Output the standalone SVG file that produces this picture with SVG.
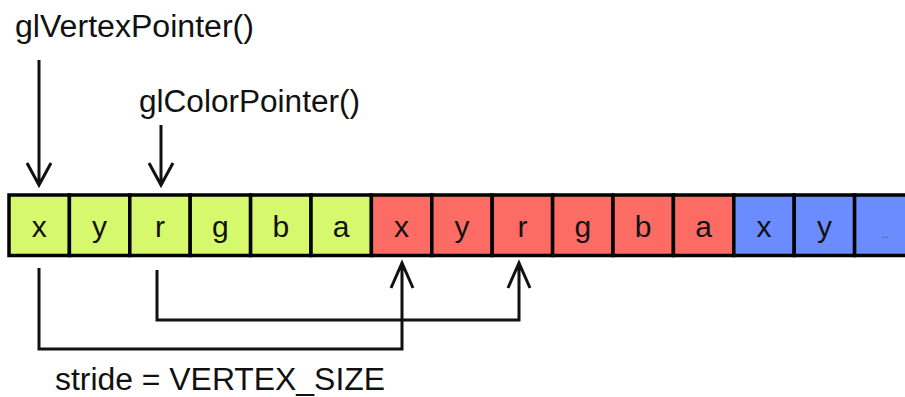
<svg xmlns="http://www.w3.org/2000/svg" width="905" height="397" viewBox="0 0 905 397">
<style>
.cell{stroke:#000;stroke-width:3.5}
.g{fill:#d6f86c}
.r{fill:#fd6c64}
.b{fill:#6b8cff}
.lt{font-family:"Liberation Sans",Arial,sans-serif;font-size:30px;fill:#111;text-anchor:middle}
.lbl{font-family:"Liberation Sans",Arial,sans-serif;font-size:31px;fill:#111}
.ln{fill:none;stroke:#111;stroke-width:3;stroke-linejoin:miter}
</style>
<rect width="905" height="397" fill="#fff"/>
<g id="buffer">
<g id="c0"><rect class="cell g" x="9" y="195" width="60.4" height="60.5"/><text class="lt" x="39.2" y="237">x</text></g>
<g id="c1"><rect class="cell g" x="69.4" y="195" width="60.4" height="60.5"/><text class="lt" x="99.6" y="237">y</text></g>
<g id="c2"><rect class="cell g" x="129.8" y="195" width="60.4" height="60.5"/><text class="lt" x="160" y="237">r</text></g>
<g id="c3"><rect class="cell g" x="190.2" y="195" width="60.4" height="60.5"/><text class="lt" x="220.4" y="237">g</text></g>
<g id="c4"><rect class="cell g" x="250.6" y="195" width="60.4" height="60.5"/><text class="lt" x="280.8" y="237">b</text></g>
<g id="c5"><rect class="cell g" x="311" y="195" width="60.4" height="60.5"/><text class="lt" x="341.2" y="237">a</text></g>
<g id="c6"><rect class="cell r" x="371.4" y="195" width="60.4" height="60.5"/><text class="lt" x="401.6" y="237">x</text></g>
<g id="c7"><rect class="cell r" x="431.8" y="195" width="60.4" height="60.5"/><text class="lt" x="462" y="237">y</text></g>
<g id="c8"><rect class="cell r" x="492.2" y="195" width="60.4" height="60.5"/><text class="lt" x="522.4" y="237">r</text></g>
<g id="c9"><rect class="cell r" x="552.6" y="195" width="60.4" height="60.5"/><text class="lt" x="582.8" y="237">g</text></g>
<g id="c10"><rect class="cell r" x="613" y="195" width="60.4" height="60.5"/><text class="lt" x="643.2" y="237">b</text></g>
<g id="c11"><rect class="cell r" x="673.4" y="195" width="60.4" height="60.5"/><text class="lt" x="703.6" y="237">a</text></g>
<g id="c12"><rect class="cell b" x="733.8" y="195" width="60.4" height="60.5"/><text class="lt" x="764" y="237">x</text></g>
<g id="c13"><rect class="cell b" x="794.2" y="195" width="60.4" height="60.5"/><text class="lt" x="824.4" y="237">y</text></g>
<g id="c14"><rect class="cell b" x="854.6" y="195" width="60.4" height="60.5"/><text x="885" y="238" font-family="Liberation Sans, Arial, sans-serif" font-size="12" fill="#556" text-anchor="middle">..</text></g>
</g>
<g id="labels">
<text id="glVertexPointer" class="lbl" x="15" y="37" textLength="239" lengthAdjust="spacingAndGlyphs">glVertexPointer()</text>
<text id="glColorPointer" class="lbl" x="139" y="112" textLength="221" lengthAdjust="spacingAndGlyphs">glColorPointer()</text>
<text id="stride" class="lbl" x="55" y="390" textLength="330" lengthAdjust="spacingAndGlyphs">stride = VERTEX_SIZE</text>
</g>
<g id="connectors">
<path class="ln" d="M39 60V185M27 163L39 185L51 163"/>
<path class="ln" d="M161 125V185M149 163L161 185L173 163"/>
<path class="ln" d="M39 268V349H402V263M391 288L402 263L413 288"/>
<path class="ln" d="M157 270V320H519V263M508 288L519 263L530 288"/>
</g>
</svg>
